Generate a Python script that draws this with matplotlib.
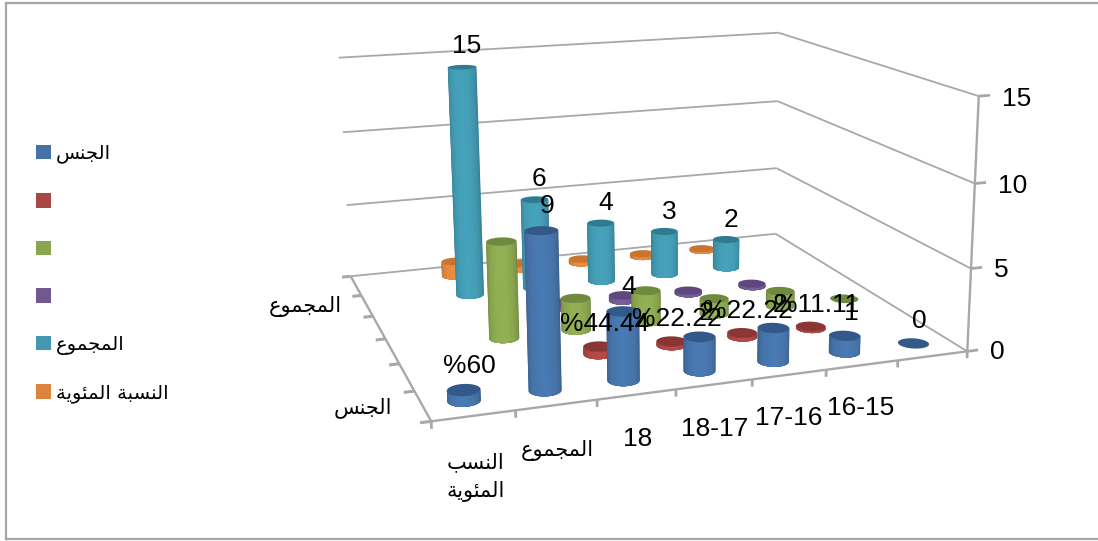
import numpy as np
import matplotlib
matplotlib.use("Agg")
import matplotlib.pyplot as plt
from matplotlib.lines import Line2D
from matplotlib.patches import Patch
from mpl_toolkits.mplot3d import proj3d
from mpl_toolkits.mplot3d.art3d import Poly3DCollection

# ---------- data ----------
categories = ["النسب\nالمئوية", "المجموع", "18", "18-17", "17-16", "16-15", ""]
series_names = ["الجنس", " ", " ", " ", "المجموع", "النسبة المئوية"]
depth_labels = ["الجنس", "", "", "", "المجموع", ""]
z_ticks = [0, 5, 10, 15]

gender = [0.6, 9, 4, 2, 2, 1, 0]
gender_pct = [None, None, 0.4444, 0.2222, 0.2222, 0.1111, None]
blank_a = [None, 6, 2, 2, 1, 1, 0]
blank_b = [None, None, 0.3333, 0.3333, 0.1667, 0.1667, None]
total = [None, 15, 6, 4, 3, 2, None]
share = [None, 1.0, 0.4, 0.2667, 0.2, 0.1333, None]
series_values = [gender, gender_pct, blank_a, blank_b, total, share]

gender_text = ["%60", "9", "4", "2", "2", "1", "0"]
pct_text = [None, None, "%44.44", "%22.22", "%22.22", "%11.11", None]
total_text = [None, "15", "6", "4", "3", "2", None]
series_text = [gender_text, pct_text, None, None, total_text, None]

side_colors = ["#4572A7", "#AA4643", "#89A54E", "#71588F", "#4198AF", "#DB843D"]
cap_colors = ["#32598A", "#8A3634", "#6F8A3C", "#5F4880", "#2F7C92", "#C9752F"]

LATIN = "Liberation Sans"
ARABIC = "DejaVu Sans"
GRID = "#a8a8a8"

# ---------- Arabic text: matplotlib does no joining or right-to-left layout ----------
FORMS = {
    "ا": (0xFE8D, 0xFE8E), "ة": (0xFE93, 0xFE94), "و": (0xFEED, 0xFEEE),
    "ل": (0xFEDD, 0xFEDE, 0xFEDF, 0xFEE0), "ج": (0xFE9D, 0xFE9E, 0xFE9F, 0xFEA0),
    "ن": (0xFEE5, 0xFEE6, 0xFEE7, 0xFEE8), "س": (0xFEB1, 0xFEB2, 0xFEB3, 0xFEB4),
    "م": (0xFEE1, 0xFEE2, 0xFEE3, 0xFEE4), "ع": (0xFEC9, 0xFECA, 0xFECB, 0xFECC),
    "ب": (0xFE8F, 0xFE90, 0xFE91, 0xFE92), "ئ": (0xFE89, 0xFE8A, 0xFE8B, 0xFE8C),
    "ي": (0xFEF1, 0xFEF2, 0xFEF3, 0xFEF4),
}


def shape_word(word):
    out = []
    for i, ch in enumerate(word):
        forms = FORMS[ch]
        prev = word[i - 1] if i else None
        nxt = word[i + 1] if i + 1 < len(word) else None
        joins_prev = prev is not None and len(FORMS[prev]) == 4
        joins_next = nxt is not None and len(forms) == 4
        if joins_prev and joins_next:
            out.append(chr(forms[3]))
        elif joins_next:
            out.append(chr(forms[2]))
        elif joins_prev:
            out.append(chr(forms[1]))
        else:
            out.append(chr(forms[0]))
    return "".join(reversed(out))


def shape(text):
    if not text.strip() or not all(c in FORMS or c in " \n" for c in text):
        return text
    lines = text.split("\n")
    return "\n".join(" ".join(shape_word(w) for w in reversed(l.split(" "))) for l in lines)


# ---------- figure and 3D scene ----------
W, H = 1098, 541
fig = plt.figure(figsize=(W / 100, H / 100), dpi=100, facecolor="white")
cx, cy, size = 623.77, 204.66, 697.35
ax = fig.add_axes([(cx - size / 2) / W, 1 - (cy + size / 2) / H, size / W, size / H],
                  projection="3d")
n_cat, n_row, z_max = len(categories), len(series_values), z_ticks[-1]
ax.set_xlim(0, n_cat)
ax.set_ylim(0, n_row)
ax.set_zlim(0, z_max)
ax.set_box_aspect((2.9784, 2.6112, 1.4204))
AZIM = -108.44
ax.view_init(13.85, AZIM, 0.52)
ax.set_proj_type("persp", focal_length=0.4127)
ax.set_xticks([])
ax.set_yticks([])
ax.set_zticks([])
ax.set_axis_off()
ax.computed_zorder = False
ax.patch.set_alpha(0)


def seg(a, b, lw=1.3, color=GRID):
    ax.plot(*zip(a, b), color=color, lw=lw, solid_capstyle="butt", zorder=1, clip_on=False)


def label(x, y, z, text, **kwargs):
    """Place flat text at a point of the 3D scene."""
    px, py, _ = proj3d.proj_transform(x, y, z, ax.get_proj())
    ax.text2D(px, py, text, transform=ax.transData, color="black", zorder=5000, **kwargs)


# walls, floor outline and ticks
for z in z_ticks[1:]:
    seg((0, n_row, z), (n_cat, n_row, z))
    seg((n_cat, n_row, z), (n_cat, 0, z))
seg((0, n_row, 0), (n_cat, n_row, 0))
seg((n_cat, n_row, 0), (n_cat, 0, 0))
seg((0, 0, 0), (n_cat, 0, 0), lw=1.7)
seg((0, 0, 0), (0, n_row, 0), lw=1.7)
seg((n_cat, 0, 0), (n_cat, 0, z_max), lw=1.7)
for i in range(n_cat + 1):
    seg((i, 0, 0), (i, 0, -0.42), lw=2)
for j in range(n_row + 1):
    seg((0, j, 0), (-0.13, j, 0), lw=2.2)
for z in z_ticks:
    seg((n_cat, 0, z), (n_cat + 0.16, 0, z), lw=2)


order = 10


def add_poly(vertices, color):
    global order
    poly = Poly3DCollection([vertices], facecolors=[color], edgecolors="none", linewidths=0)
    poly.set_snap(False)
    poly.set_zorder(order)
    order += 1
    ax.add_collection3d(poly)


def cylinder(x0, y0, height, side, cap, radius=0.2, bands=9):
    """A cylindrical column: nested shading bands from the rim inward, then the top cap."""
    base = np.array(matplotlib.colors.to_rgb(side))
    for u in np.linspace(1, 0.08, bands):
        tone = 1.07 - 0.25 * u ** 2
        theta = np.radians(np.linspace(AZIM - 92 * u, AZIM + 92 * u, 25))
        px = x0 + radius * np.cos(theta)
        py = y0 + radius * np.sin(theta)
        outline = [(a, b, 0) for a, b in zip(px, py)]
        outline += [(a, b, height) for a, b in zip(px[::-1], py[::-1])]
        add_poly(outline, tuple(np.clip(base * tone, 0, 1)))
    full = np.radians(np.linspace(0, 360, 49))
    add_poly([(x0 + radius * np.cos(t), y0 + radius * np.sin(t), height) for t in full],
             matplotlib.colors.to_rgb(cap))


# columns: farthest row first, and from the far end of each row
for row in range(n_row - 1, -1, -1):
    values = series_values[row]
    for col in range(n_cat - 1, -1, -1):
        v = values[col]
        if v is not None:
            cylinder(col + 0.5, row + 0.5, v, side_colors[row], cap_colors[row])

# data labels sit above their columns
for row, texts in enumerate(series_text):
    if texts is None:
        continue
    for col, t in enumerate(texts):
        if t is not None:
            label(col + 0.58, row + 0.5, series_values[row][col] + 1.33, t, fontsize=19,
                  family=LATIN, ha="center", va="center")

# category labels along the front edge
for col, name in enumerate(categories):
    if not name:
        continue
    arabic = not name[0].isdigit()
    z = -3.45 if "\n" in name else -2.6
    label(col + 0.5, 0, z, shape(name), fontsize=15 if arabic else 19,
          family=ARABIC if arabic else LATIN, ha="center", va="center", linespacing=1.5)

# series labels along the depth edge
for row, name in enumerate(depth_labels):
    if name:
        label(-0.36, row + 0.5, 0.1, shape(name), fontsize=15, family=ARABIC,
              ha="right", va="center")

# value axis labels
for z in z_ticks:
    label(n_cat + 0.33, 0, z - 0.25, str(z), fontsize=19, family=LATIN, ha="left",
          va="center")

# legend
handles = [Patch(facecolor=c, edgecolor="none") for c in side_colors]
fig.legend(handles, [shape(s) for s in series_names], loc="upper left",
           bbox_to_anchor=(30 / W, 1 - 138 / H), frameon=False,
           prop={"family": ARABIC, "size": 14}, handlelength=0.77, handleheight=0.77,
           handletextpad=0.25, labelspacing=1.47, borderaxespad=0, borderpad=0.3)

# chart frame, open on the right
for xs, ys in [((6, 6), (3, 539)), ((6, W), (3, 3)), ((6, W), (539, 539))]:
    fig.add_artist(Line2D([x / W for x in xs], [1 - y / H for y in ys], color="#a6a6a6",
                          lw=1.6, transform=fig.transFigure))

fig.savefig("out.png", dpi=100)
